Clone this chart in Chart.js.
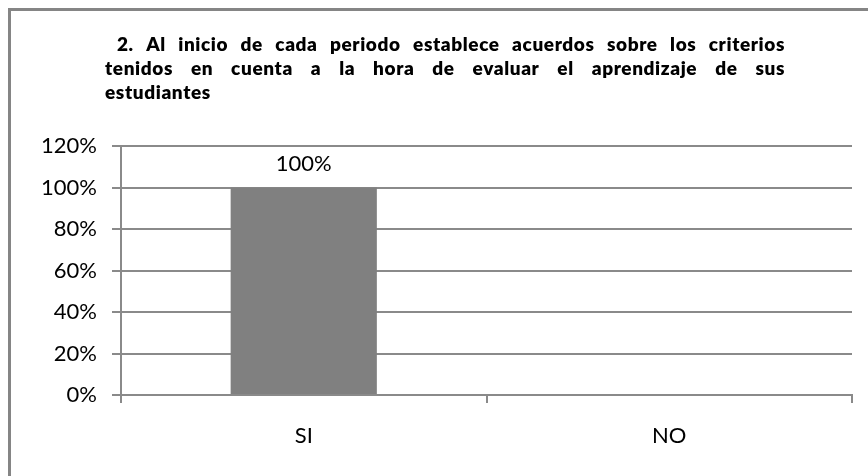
<!DOCTYPE html>
<html>
<head>
<meta charset="utf-8">
<script src="https://cdn.jsdelivr.net/npm/chart.js@4/dist/chart.umd.min.js"></script>
<style>
  html, body { margin: 0; padding: 0; background: #ffffff; }
  #wrap { width: 868px; height: 476px; }
</style>
</head>
<body>
<div id="wrap"><canvas id="c" width="868" height="476"></canvas></div>
<script>
// ---- data ----
const categories = ['SI', 'NO'];
const values = [100, 0];            // percent
const yTicks = [0, 20, 40, 60, 80, 100, 120];
const titleLines = [
  '2.  Al inicio de cada periodo establece acuerdos sobre los criterios',
  'tenidos en cuenta a la hora de evaluar el aprendizaje de sus',
  'estudiantes'
];

const GRID = '#8a8a8a';
const FONT = 'Lato, "Open Sans", sans-serif';

const framePlugin = {
  id: 'frame',
  beforeDraw(chart) {
    const ctx = chart.ctx;
    ctx.save();
    ctx.fillStyle = '#ffffff';
    ctx.fillRect(0, 0, chart.width, chart.height);
    ctx.strokeStyle = '#858585';
    ctx.lineWidth = 3;
    ctx.strokeRect(9.5, 9.5, chart.width + 20, chart.height + 20);
    ctx.restore();
  }
};

const titlePlugin = {
  id: 'justTitle',
  afterDraw(chart) {
    const ctx = chart.ctx;
    ctx.save();
    ctx.fillStyle = '#000000';
    ctx.font = '800 19px ' + FONT;
    if ('letterSpacing' in ctx) ctx.letterSpacing = '0.6px';
    ctx.textBaseline = 'alphabetic';
    const starts = [117, 105, 105];
    const right = 785;
    const base0 = 51, lh = 24;
    titleLines.forEach((line, i) => {
      const words = line.split(/\s+/).filter(Boolean);
      const y = base0 + i * lh;
      let x = starts[i];
      ctx.textAlign = 'left';
      if (i === titleLines.length - 1) {
        ctx.fillText(line, x, y);
        return;
      }
      const widths = words.map(w => ctx.measureText(w).width);
      const total = widths.reduce((a, b) => a + b, 0);
      const gap = (right - x - total) / (words.length - 1);
      words.forEach((w, k) => {
        ctx.fillText(w, x, y);
        x += widths[k] + gap;
      });
    });
    ctx.restore();
  }
};

const labelPlugin = {
  id: 'barLabels',
  afterDatasetsDraw(chart) {
    const ctx = chart.ctx;
    const meta = chart.getDatasetMeta(0);
    ctx.save();
    ctx.fillStyle = '#000000';
    ctx.font = '22px ' + FONT;
    ctx.textAlign = 'center';
    ctx.textBaseline = 'middle';
    meta.data.forEach((bar, i) => {
      const v = chart.data.datasets[0].data[i];
      if (v > 0) ctx.fillText(v + '%', bar.x, bar.y - 24);
    });
    ctx.restore();
  }
};

new Chart(document.getElementById('c'), {
  type: 'bar',
  data: {
    labels: categories,
    datasets: [{
      data: values,
      backgroundColor: '#808080',
      borderWidth: 0,
      barPercentage: 0.4,
      categoryPercentage: 1.0
    }]
  },
  options: {
    responsive: false,
    animation: false,
    events: [],
    layout: { padding: { top: 146, right: 16, left: 0, bottom: 0 } },
    plugins: {
      legend: { display: false },
      title: { display: false },
      tooltip: { enabled: false }
    },
    scales: {
      x: {
        offset: true,
        grid: {
          display: true,
          offset: true,
          drawOnChartArea: false,
          drawTicks: true,
          tickLength: 8,
          color: GRID,
          lineWidth: 2
        },
        border: { display: true, color: GRID, width: 2 },
        ticks: {
          color: '#000000',
          font: { family: FONT, size: 22 },
          padding: 20
        },
        afterFit(scale) { scale.height = 81; }
      },
      y: {
        min: 0,
        max: 120,
        afterBuildTicks(scale) { scale.ticks = yTicks.map(v => ({ value: v })); },
        grid: {
          color: GRID,
          lineWidth: 2,
          drawTicks: true,
          tickLength: 9
        },
        border: { display: true, color: GRID, width: 2 },
        ticks: {
          color: '#000000',
          font: { family: FONT, size: 22 },
          padding: 15,
          callback: v => v + '%'
        },
        afterFit(scale) { scale.width = 121; }
      }
    }
  },
  plugins: [framePlugin, titlePlugin, labelPlugin]
});
</script>
</body>
</html>
